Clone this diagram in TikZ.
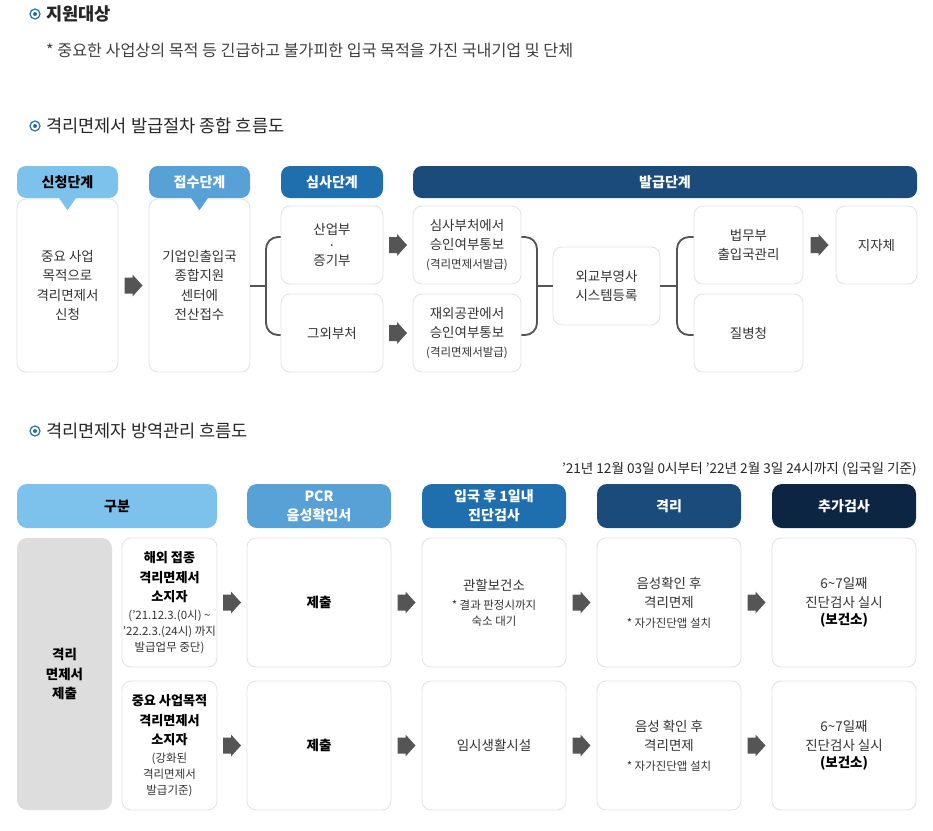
\documentclass[tikz,border=0pt]{standalone}
\usepackage{fontspec}
\setmainfont{Noto Sans CJK KR}
\usepackage{tikz}
\usetikzlibrary{shapes, arrows.meta, positioning, calc}

\definecolor{stepone}{HTML}{7DC2EC}
\definecolor{steptwo}{HTML}{58A1D7}
\definecolor{stepthree}{HTML}{1F6FAE}
\definecolor{stepfour}{HTML}{1B4B7A}
\definecolor{stepfive}{HTML}{0C2542}
\definecolor{boxline}{HTML}{E4E4E4}
\definecolor{subgray}{HTML}{DDDDDD}
\definecolor{arrowgray}{HTML}{555555}
\definecolor{txtgray}{HTML}{333333}

\newlength\ux
\setlength\ux{0.03cm}
\newcommand\fsm{\fontsize{9.8pt}{11.5pt}\selectfont\mdseries\color{txtgray}}

\begin{document}
\begin{tikzpicture}[x=0.03cm, y=-0.03cm,
        sectitle/.style={anchor=west, inner sep=0pt, text=black!85, font=\fontsize{15pt}{17pt}\selectfont},
        bul/.style={circle, draw=stepthree, line width=1pt, minimum size=10\ux, inner sep=0pt},
        hdr/.style={rectangle, rounded corners=9\ux, minimum height=32\ux, inner sep=0pt, align=center, text=white, font=\fontsize{12pt}{14pt}\selectfont\bfseries},
        hdrtwo/.style={hdr, minimum width=144\ux, minimum height=44\ux, rounded corners=10\ux, font=\fontsize{12pt}{16pt}\selectfont\bfseries},
        card/.style={rectangle, draw=boxline, fill=white, line width=0.8pt, rounded corners=9\ux, inner sep=0pt, align=center, text=txtgray, font=\fontsize{11.5pt}{16.5pt}\selectfont},
        smallcard/.style={card, minimum height=78\ux},
        flowcard/.style={card, minimum width=144\ux, minimum height=129\ux},
        lbl/.style={card, minimum width=95\ux, minimum height=129\ux, text=black, font=\fontsize{11.2pt}{13.7pt}\selectfont\bfseries},
        blk/.style={rectangle, inner sep=0pt, minimum width=18\ux, minimum height=22\ux,
            path picture={\fill[arrowgray, shift={(path picture bounding box.center)}] (-9,-8) -- (-1,-8) -- (-1,-11) -- (9,0) -- (-1,11) -- (-1,8) -- (-9,8) -- cycle;}},
        brk/.style={draw=arrowgray, line width=1.6pt, rounded corners=12\ux}
    ]
        \path[use as bounding box, fill=white] (0,0) rectangle (933,830);

        % titles
        \node[bul] (b1) at (35,14) {};
        \fill[stepthree] (b1) circle (2\ux);
        \node[sectitle, font=\fontsize{15pt}{17pt}\selectfont\bfseries] (t1) at (46,14) {지원대상};
        \node[sectitle, text=black!75, font=\fontsize{13.8pt}{15pt}\selectfont] (t1note) at (46,50) {* 중요한 사업상의 목적 등 긴급하고 불가피한 입국 목적을 가진 국내기업 및 단체};
        \node[bul] (b2) at (35,126) {};
        \fill[stepthree] (b2) circle (2\ux);
        \node[sectitle] (t2) at (46,126) {격리면제서 발급절차 종합 흐름도};

        % issuing procedure
        \node[card, minimum width=101\ux, minimum height=173\ux] (s1) at (67.5,285.5) {중요 사업\\목적으로\\격리면제서\\신청};
        \node[card, minimum width=101\ux, minimum height=173\ux] (s2) at (199.5,285.5) {기업인출입국\\종합지원\\센터에\\전산접수};
        \node[smallcard, minimum width=102\ux, font=\fontsize{11.5pt}{13pt}\selectfont] (s3a) at (332,245) {산업부\\·\\증기부};
        \node[smallcard, minimum width=102\ux] (s3b) at (332,333) {그외부처};
        \node[smallcard, minimum width=108\ux] (s4a) at (467,245) {심사부처에서\\승인여부통보\\{\fsm (격리면제서발급)}};
        \node[smallcard, minimum width=108\ux] (s4b) at (467,333) {재외공관에서\\승인여부통보\\{\fsm (격리면제서발급)}};
        \node[smallcard, minimum width=107\ux] (s5) at (606.5,286) {외교부영사\\시스템등록};
        \node[smallcard, minimum width=109\ux] (s6a) at (748.5,245) {법무부\\출입국관리};
        \node[smallcard, minimum width=109\ux] (s6b) at (748.5,333) {질병청};
        \node[smallcard, minimum width=81\ux] (s7) at (876.5,245) {지자체};

        \node[hdr, fill=stepone, text=black, minimum width=101\ux] (h1) at (67.5,182) {신청단계};
        \node[hdr, fill=steptwo, minimum width=101\ux] (h2) at (199.5,182) {접수단계};
        \node[hdr, fill=stepthree, minimum width=102\ux] (h3) at (332,182) {심사단계};
        \node[hdr, fill=stepfour, minimum width=504\ux] (h4) at (665,182) {발급단계};
        \fill[stepone] ([xshift=-9\ux,yshift=1\ux]h1.south) -- ([xshift=9\ux,yshift=1\ux]h1.south) -- ([yshift=-12\ux]h1.south) -- cycle;
        \fill[steptwo] ([xshift=-9\ux,yshift=1\ux]h2.south) -- ([xshift=9\ux,yshift=1\ux]h2.south) -- ([yshift=-12\ux]h2.south) -- cycle;

        \node[blk] (a1) at ($(s1.east)!.5!(s2.west)$) {};
        \node[blk] (a2) at ($(s3a.east)!.5!(s4a.west)$) {};
        \node[blk] (a3) at ($(s3b.east)!.5!(s4b.west)$) {};
        \node[blk] (a4) at ($(s6a.east)!.5!(s7.west)$) {};

        \coordinate (j1) at (266,286);
        \coordinate (j2) at (537,286);
        \coordinate (j3) at (677,286);
        \draw[brk] (s2.east |- j1) -- (j1);
        \draw[brk] ([yshift=8\ux]s3a.west) -| (j1) |- ([yshift=-2\ux]s3b.west);
        \draw[brk] ([yshift=8\ux]s4a.east) -| (j2) |- ([yshift=-2\ux]s4b.east);
        \draw[brk] (j2) -- (s5.west);
        \draw[brk] (s5.east) -- (j3);
        \draw[brk] ([yshift=8\ux]s6a.west) -| (j3) |- ([yshift=-2\ux]s6b.west);

        % quarantine management
        \node[bul] (b3) at (35,431) {};
        \fill[stepthree] (b3) circle (2\ux);
        \node[sectitle] (t3) at (46,431) {격리면제자 방역관리 흐름도};
        \node[anchor=east, inner sep=0pt, text=black!85, font=\fontsize{11.6pt}{13pt}\selectfont] (period) at (917,469) {'21년 12월 03일 0시부터 '22년 2월 3일 24시까지 (입국일 기준)};

        \node[hdrtwo, fill=stepone, text=black, minimum width=200\ux] (g0) at (117,506) {구분};
        \node[hdrtwo, fill=steptwo] (g1) at (319,506) {PCR\\음성확인서};
        \node[hdrtwo, fill=stepthree] (g2) at (494,506) {입국 후 1일내\\진단검사};
        \node[hdrtwo, fill=stepfour] (g3) at (669,506) {격리};
        \node[hdrtwo, fill=stepfive] (g4) at (844,506) {추가검사};

        \node[rectangle, fill=subgray, rounded corners=10\ux, minimum width=95\ux, minimum height=272\ux, align=center, font=\fontsize{11.5pt}{17pt}\selectfont\bfseries] (sub) at (64.5,674) {격리\\면제서\\제출};

        \node[lbl] (r1) at (169.5,602.5) {해외 접종\\[3pt]격리면제서\\[3pt]소지자\\[1pt]{\fsm ('21.12.3.(0시) \textasciitilde}\\{\fsm '22.2.3.(24시) 까지}\\{\fsm 발급업무 중단)}};
        \node[flowcard, text=black] (p1) at (319,602.5) {\textbf{제출}};
        \node[flowcard] (q1) at (494,602.5) {관할보건소\\{\fsm * 결과 판정시까지}\\[-3pt]{\fsm 숙소 대기}};
        \node[flowcard] (i1) at (669,602.5) {음성확인 후\\격리면제\\{\fsm * 자가진단앱 설치}};
        \node[flowcard] (e1) at (844,602.5) {6\textasciitilde7일째\\진단검사 실시\\[-2pt]{\color{black}\bfseries (보건소)}};

        \node[lbl] (r2) at (169.5,745.5) {중요 사업목적\\[3pt]격리면제서\\[3pt]소지자\\[1pt]{\fsm (강화된}\\{\fsm 격리면제서}\\{\fsm 발급기준)}};
        \node[flowcard, text=black] (p2) at (319,745.5) {\textbf{제출}};
        \node[flowcard] (q2) at (494,745.5) {임시생활시설};
        \node[flowcard] (i2) at (669,745.5) {음성 확인 후\\격리면제\\{\fsm * 자가진단앱 설치}};
        \node[flowcard] (e2) at (844,745.5) {6\textasciitilde7일째\\진단검사 실시\\[-2pt]{\color{black}\bfseries (보건소)}};

        \foreach \a/\b in {r1/p1, p1/q1, q1/i1, i1/e1, r2/p2, p2/q2, q2/i2, i2/e2}
            \node[blk] (arr-\a) at ($(\a.east)!.5!(\b.west)$) {};
    \end{tikzpicture}
\end{document}
